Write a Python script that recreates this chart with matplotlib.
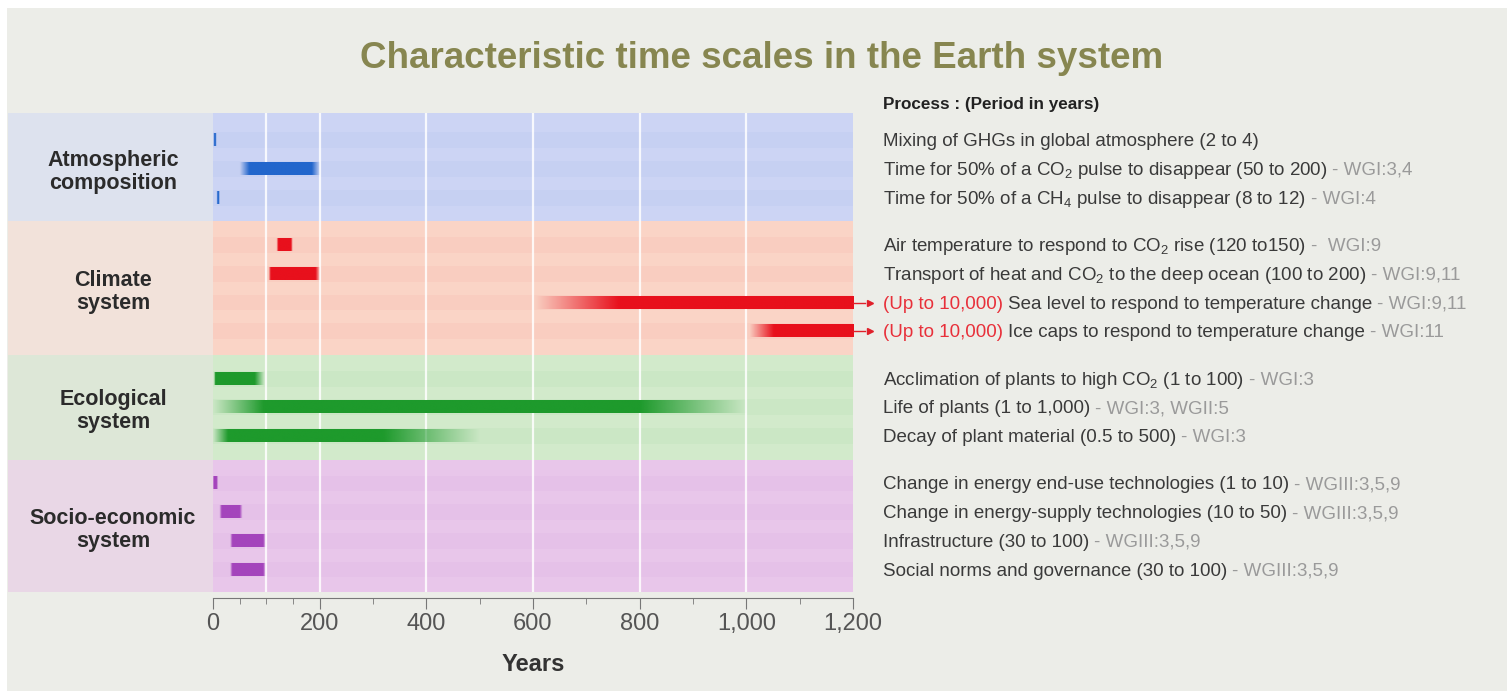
import numpy as np
import matplotlib.pyplot as plt
from matplotlib import transforms
from matplotlib.patches import Rectangle

plt.rcParams['font.family'] = ['Liberation Sans', 'DejaVu Sans']
plt.rcParams['mathtext.fontset'] = 'custom'
plt.rcParams['mathtext.rm'] = 'Liberation Sans'
plt.rcParams['mathtext.it'] = 'Liberation Sans'
plt.rcParams['mathtext.bf'] = 'Liberation Sans:bold'

# ---- data ----
groups = ['Atmospheric\ncomposition', 'Climate\nsystem', 'Ecological\nsystem', 'Socio-economic\nsystem']
group_sizes = [3, 4, 3, 4]

processes = [
    'Mixing of GHGs in global atmosphere (2 to 4)',
    'Time for 50% of a CO$_2$ pulse to disappear (50 to 200)',
    'Time for 50% of a CH$_4$ pulse to disappear (8 to 12)',
    'Air temperature to respond to CO$_2$ rise (120 to150)',
    'Transport of heat and CO$_2$ to the deep ocean (100 to 200)',
    'Sea level to respond to temperature change',
    'Ice caps to respond to temperature change',
    'Acclimation of plants to high CO$_2$ (1 to 100)',
    'Life of plants (1 to 1,000)',
    'Decay of plant material (0.5 to 500)',
    'Change in energy end-use technologies (1 to 10)',
    'Change in energy-supply technologies (10 to 50)',
    'Infrastructure (30 to 100)',
    'Social norms and governance (30 to 100)',
]
refs = ['', '- WGI:3,4', '- WGI:4', '-  WGI:9', '- WGI:9,11', '- WGI:9,11', '- WGI:11',
        '- WGI:3', '- WGI:3, WGII:5', '- WGI:3',
        '- WGIII:3,5,9', '- WGIII:3,5,9', '- WGIII:3,5,9', '- WGIII:3,5,9']
open_ended = [False, False, False, False, False, True, True,
              False, False, False, False, False, False, False]
open_label = '(Up to 10,000)'

# bar extents in years as drawn: fade-in start, solid start, solid end, fade-out end
fade_start  = [1,  50, 7,   119, 104, 605,  1005, 2,  0,   0,   0,  12, 32, 32]
solid_start = [2,  68, 8,   122, 108, 760,  1050, 4,  95,  28,  1,  16, 36, 36]
solid_end   = [5,  185, 11, 146, 192, 1200, 1200, 78, 800, 320, 7,  50, 94, 94]
fade_end    = [6,  200, 12, 149, 200, 1200, 1200, 96, 1000, 500, 9, 55, 98, 98]

bar_colors   = ['#2266cc', '#e8101c', '#1e9a2c', '#a444bc']
plot_bg      = ['#ccd4f4', '#fad4c6', '#d2eacb', '#e8c6ea']
label_bg     = ['#dde2ee', '#f2e2da', '#dde7d7', '#e9d7e6']

x_major = [0, 200, 400, 600, 800, 1000, 1200]
x_major_labels = ['0', '200', '400', '600', '800', '1,000', '1,200']
x_minor = [50, 100, 150, 300, 500, 700, 900, 1100]
grid_x = [100, 200, 400, 600, 800, 1000]

# ---- layout ----
W, H = 1507, 695
fig = plt.figure(figsize=(W / 100, H / 100), dpi=100, facecolor='white')
fig.patches.append(Rectangle((7 / W, 4 / H), (W - 7) / W, (H - 12) / H,
                             transform=fig.transFigure, facecolor='#ecede8',
                             edgecolor='none', zorder=-10))

ax = fig.add_axes([213 / W, 1 - 592 / H, 640 / W, 479 / H])
ax.set_facecolor('none')

gap = 1.65
rows_y = []
group_span = []
pos = 0.0
for g, n in enumerate(group_sizes):
    ys = [pos + i for i in range(n)]
    rows_y += ys
    group_span.append((ys[0], ys[-1]))
    pos = ys[-1] + gap
row_group = [g for g, n in enumerate(group_sizes) for _ in range(n)]

pad = gap / 2
ax.set_xlim(0, 1200)
ax.set_ylim(rows_y[-1] + 0.78, rows_y[0] - 0.95)

# group bands (plot area + label column)
lab_trans = transforms.blended_transform_factory(fig.transFigure, ax.transData)
for g, (y0, y1) in enumerate(group_span):
    top = y0 - (0.95 if g == 0 else pad)
    bot = y1 + (0.78 if g == len(groups) - 1 else pad)
    ax.axhspan(top, bot, xmin=0, xmax=1, color=plot_bg[g], lw=0, zorder=0)
    ax.axhspan(top, bot, xmin=-205 / 640, xmax=0, color=label_bg[g], lw=0,
               zorder=0, clip_on=False)
    fig.text(113 / W, (y0 + y1) / 2 + 0.12, groups[g], transform=lab_trans,
             ha='center', va='center', fontsize=15.5, fontweight='bold',
             color='#2b2b2b', linespacing=1.12)

# faint row stripes
for y, g in zip(rows_y, row_group):
    ax.barh(y, 1200, left=0, height=0.55, color=bar_colors[g], alpha=0.035,
            lw=0, zorder=1)

for gx in grid_x:
    ax.axvline(gx, color='white', lw=1.6, alpha=0.85, zorder=2)

# bars with soft ends
xs = np.linspace(0, 1200, 2401)
bar_h = 0.42
for i, y in enumerate(rows_y):
    a, b, c, d = fade_start[i], solid_start[i], solid_end[i], fade_end[i]
    if d - a < 5:
        b, c = a, a + 5
        d = a + 6
    alpha = np.interp(xs, [a - 1e-6, b, c, d + 1e-6], [0, 1, 1, 0], left=0, right=0)
    if c >= 1200:
        alpha[xs >= b] = 1
    rgb = np.array(plt.matplotlib.colors.to_rgb(bar_colors[row_group[i]]))
    img = np.zeros((1, xs.size, 4))
    img[0, :, :3] = rgb
    img[0, :, 3] = alpha
    ax.imshow(img, extent=(0, 1200, y + bar_h / 2, y - bar_h / 2), aspect='auto',
              interpolation='bilinear', zorder=3)

# arrows for open-ended rows
for i, y in enumerate(rows_y):
    if open_ended[i]:
        ax.plot([1200, 1222], [y, y], color='#e0202a', lw=1, clip_on=False, zorder=4)
        ax.plot([1232], [y], marker='>', ms=5, color='#e0202a', clip_on=False, zorder=4)

# axis styling
for s in ['left', 'top', 'right']:
    ax.spines[s].set_visible(False)
ax.spines['bottom'].set_color('#777777')
ax.spines['bottom'].set_position(('outward', 4))
ax.set_yticks([])
ax.set_xticks(x_major)
ax.set_xticklabels(x_major_labels)
ax.set_xticks(x_minor, minor=True)
ax.tick_params(axis='x', which='major', length=8, color='#777777',
               labelsize=17, labelcolor='#555555', pad=3)
ax.tick_params(axis='x', which='minor', length=4, color='#777777')
ax.set_xlabel('Years', fontsize=17, fontweight='bold', color='#333333', labelpad=13)

# title and header
fig.text(762 / W, 1 - 58 / H, 'Characteristic time scales in the Earth system',
         ha='center', va='center', fontsize=26.5, fontweight='bold', color='#878650')
fig.text(883 / W, 1 - 104 / H, 'Process : (Period in years)', ha='left',
         va='center', fontsize=12.3, fontweight='bold', color='#222222')

# process descriptions
renderer = fig.canvas.get_renderer()
base = transforms.blended_transform_factory(fig.transFigure, ax.transData)
for i, y in enumerate(rows_y):
    pieces = []
    if open_ended[i]:
        pieces.append((open_label, '#e8303a'))
    pieces.append((processes[i], '#3a3a3a'))
    if refs[i]:
        pieces.append((refs[i], '#9a9a9a'))
    off = 0
    for txt, col in pieces:
        tr = transforms.offset_copy(base, fig=fig, x=off, y=-6, units='dots')
        t = fig.text(883 / W, y, txt, transform=tr, ha='left', va='baseline',
                     fontsize=13.5, color=col)
        off += t.get_window_extent(renderer).width + 5

fig.savefig('out.png', dpi=100, facecolor=fig.get_facecolor())
